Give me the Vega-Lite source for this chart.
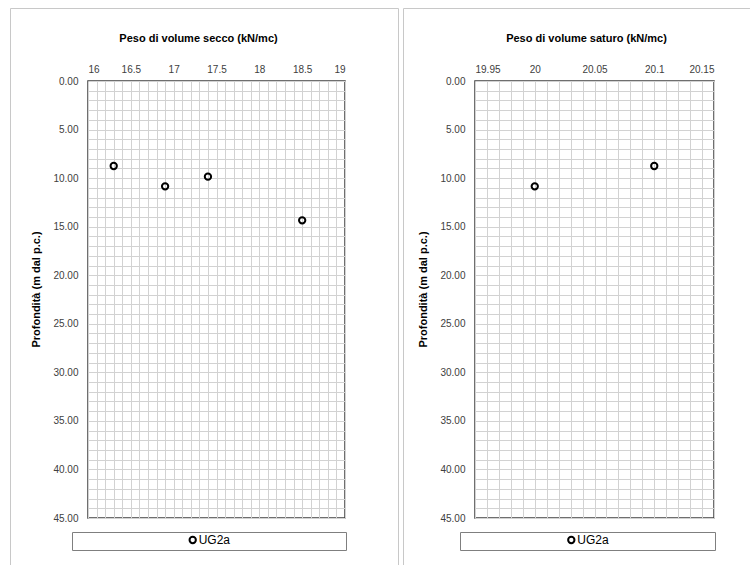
{
  "$schema": "https://vega.github.io/schema/vega-lite/v6.json",
  "background": "white",
  "padding": {"left": 9, "top": 7, "right": 0, "bottom": 0},
  "datasets": {
    "secco": [
      {"prof": 8.75, "gamma": 16.3, "serie": "UG2a"},
      {"prof": 10.85, "gamma": 16.9, "serie": "UG2a"},
      {"prof": 9.85, "gamma": 17.4, "serie": "UG2a"},
      {"prof": 14.35, "gamma": 18.5, "serie": "UG2a"}
    ],
    "saturo": [
      {"prof": 10.85, "gamma": 20.0, "serie": "UG2a"},
      {"prof": 8.75, "gamma": 20.1, "serie": "UG2a"}
    ]
  },
  "resolve": {"scale": {"color": "independent"}, "legend": {"color": "independent"}},
  "spacing": 2,
  "hconcat": [
    {
      "width": 257,
      "height": 437,
      "layer": [
        {
          "data": {"name": "secco"},
          "mark": {"type": "point", "shape": "circle", "filled": false, "strokeWidth": 2, "size": 40, "opacity": 1},
          "encoding": {
            "x": {
              "field": "gamma",
              "type": "quantitative",
              "scale": {"domain": [16, 19], "nice": false, "zero": false},
              "axis": {
                "orient": "top",
                "title": "Peso di volume secco (kN/mc)",
                "values": [16, 16.1, 16.2, 16.3, 16.4, 16.5, 16.6, 16.7, 16.8, 16.9, 17, 17.1, 17.2, 17.3, 17.4, 17.5, 17.6, 17.7, 17.8, 17.9, 18, 18.1, 18.2, 18.3, 18.4, 18.5, 18.6, 18.7, 18.8, 18.9, 19],
                "tickCount": 100,
                "format": "~g",
                "labelExpr": "abs(datum.value * 2 - round(datum.value * 2)) < 0.000001 ? datum.label : ''",
                "labelPadding": 7,
                "titleX": 110,
                "titleY": -43,
                "titleAlign": "center",
                "titleBaseline": "middle"
              }
            },
            "y": {
              "field": "prof",
              "type": "quantitative",
              "scale": {"domain": [0, 45], "reverse": true, "nice": false, "zero": false},
              "axis": {
                "title": "Profondità (m dal p.c.)",
                "values": [0, 1, 2, 3, 4, 5, 6, 7, 8, 9, 10, 11, 12, 13, 14, 15, 16, 17, 18, 19, 20, 21, 22, 23, 24, 25, 26, 27, 28, 29, 30, 31, 32, 33, 34, 35, 36, 37, 38, 39, 40, 41, 42, 43, 44, 45],
                "tickCount": 100,
                "format": ".2f",
                "labelExpr": "datum.value % 5 === 0 ? datum.label : ''",
                "labelPadding": 10,
                "titleX": -52,
                "titleY": 208,
                "titleAlign": "center",
                "titleBaseline": "middle"
              }
            },
            "color": {
              "field": "serie",
              "type": "nominal",
              "scale": {"range": ["#000000"]},
              "legend": {"orient": "none", "legendX": -16, "legendY": 451, "title": "\u00a0", "titleOrient": "right", "titlePadding": 114, "symbolOffset": 112.7, "labelOffset": 0}
            }
          }
        },
        {
          "data": {"values": [{}]},
          "mark": {"type": "rule", "stroke": "#c8c8c8", "strokeWidth": 1},
          "encoding": {"x": {"datum": 15.0953}, "y": {"datum": -7.4657}, "y2": {"datum": 49.9}}
        },
        {
          "data": {"values": [{}]},
          "mark": {"type": "rule", "stroke": "#c8c8c8", "strokeWidth": 1},
          "encoding": {"x": {"datum": 19.6245}, "y": {"datum": -7.4657}, "y2": {"datum": 49.9}}
        },
        {
          "data": {"values": [{}]},
          "mark": {"type": "rule", "stroke": "#c8c8c8", "strokeWidth": 1},
          "encoding": {"x": {"datum": 15.0953}, "x2": {"datum": 19.6245}, "y": {"datum": -7.4657}}
        }
      ]
    },
    {
      "width": 239,
      "height": 437,
      "layer": [
        {
          "data": {"name": "saturo"},
          "mark": {"type": "point", "shape": "circle", "filled": false, "strokeWidth": 2, "size": 40, "opacity": 1},
          "encoding": {
            "x": {
              "field": "gamma",
              "type": "quantitative",
              "scale": {"domain": [19.95, 20.15], "nice": false, "zero": false},
              "axis": {
                "orient": "top",
                "title": "Peso di volume saturo (kN/mc)",
                "values": [19.95, 19.96, 19.97, 19.98, 19.99, 20, 20.01, 20.02, 20.03, 20.04, 20.05, 20.06, 20.07, 20.08, 20.09, 20.1, 20.11, 20.12, 20.13, 20.14, 20.15],
                "tickCount": 100,
                "format": "~g",
                "labelExpr": "abs(datum.value * 20 - round(datum.value * 20)) < 0.000001 ? datum.label : ''",
                "labelPadding": 7,
                "titleX": 111,
                "titleY": -43,
                "titleAlign": "center",
                "titleBaseline": "middle"
              }
            },
            "y": {
              "field": "prof",
              "type": "quantitative",
              "scale": {"domain": [0, 45], "reverse": true, "nice": false, "zero": false},
              "axis": {
                "title": "Profondità (m dal p.c.)",
                "values": [0, 1, 2, 3, 4, 5, 6, 7, 8, 9, 10, 11, 12, 13, 14, 15, 16, 17, 18, 19, 20, 21, 22, 23, 24, 25, 26, 27, 28, 29, 30, 31, 32, 33, 34, 35, 36, 37, 38, 39, 40, 41, 42, 43, 44, 45],
                "tickCount": 100,
                "format": ".2f",
                "labelExpr": "datum.value % 5 === 0 ? datum.label : ''",
                "labelPadding": 10,
                "titleX": -52,
                "titleY": 208,
                "titleAlign": "center",
                "titleBaseline": "middle"
              }
            },
            "color": {
              "field": "serie",
              "type": "nominal",
              "scale": {"range": ["#000000"]},
              "legend": {"orient": "none", "legendX": -15, "legendY": 451, "title": "\u00a0", "titleOrient": "right", "titlePadding": 104, "symbolOffset": 103.3, "labelOffset": 0}
            }
          }
        },
        {
          "data": {"values": [{}]},
          "mark": {"type": "rule", "stroke": "#c8c8c8", "strokeWidth": 1},
          "encoding": {"x": {"datum": 19.89017}, "y": {"datum": -7.4657}, "y2": {"datum": 49.9}}
        },
        {
          "data": {"values": [{}]},
          "mark": {"type": "rule", "stroke": "#c8c8c8", "strokeWidth": 1},
          "encoding": {"x": {"datum": 19.89017}, "x2": {"datum": 20.1801}, "y": {"datum": -7.4657}}
        }
      ]
    }
  ],
  "config": {
    "font": "Liberation Sans",
    "view": {"stroke": "#404040", "strokeWidth": 1.5},
    "axis": {
      "ticks": false,
      "domain": false,
      "grid": true,
      "gridColor": "#d2d2d2",
      "gridWidth": 1,
      "labelFont": "Liberation Sans",
      "labelFontSize": 10,
      "labelColor": "#404040",
      "labelOverlap": false,
      "titleFont": "Liberation Sans",
      "titleFontSize": 11,
      "titleFontWeight": "bold",
      "titleColor": "#000000"
    },
    "legend": {
      "strokeColor": "#7f7f7f",
      "fillColor": "white",
      "padding": 2,
      "symbolType": "circle",
      "symbolSize": 40,
      "symbolStrokeWidth": 2,
      "symbolFillColor": "transparent",
      "labelFont": "Liberation Sans",
      "labelFontSize": 12,
      "labelColor": "#000000",
      "titleFontSize": 12
    }
  }
}
